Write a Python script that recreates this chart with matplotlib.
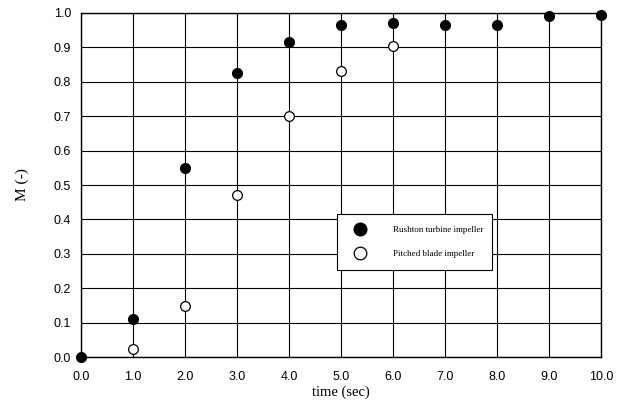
import matplotlib.pyplot as plt
import numpy as np

# data
t_rushton = [0.0, 1.0, 2.0, 3.0, 4.0, 5.0, 6.0, 7.0, 8.0, 9.0, 10.0]
m_rushton = [0.0, 0.11, 0.55, 0.825, 0.915, 0.965, 0.97, 0.965, 0.965, 0.99, 0.995]
t_pitched = [1.0, 2.0, 3.0, 4.0, 5.0, 6.0]
m_pitched = [0.025, 0.15, 0.47, 0.70, 0.83, 0.905]

xticks = np.arange(0, 11, 1)
yticks = np.arange(0, 1.01, 0.1)

fig = plt.figure(figsize=(6.17, 4.04), dpi=100)
ax = fig.add_axes([0.131, 0.116, 0.843, 0.852])

ax.plot(t_rushton, m_rushton, 'o', color='black', markersize=7,
        label='Rushton turbine impeller', clip_on=False, zorder=3)
ax.plot(t_pitched, m_pitched, 'o', markerfacecolor='white', markeredgecolor='black',
        markersize=7, markeredgewidth=0.9, label='Pitched blade impeller',
        clip_on=False, zorder=3)

ax.set_xlim(0, 10)
ax.set_ylim(0, 1.0)
ax.set_xticks(xticks)
ax.set_yticks(yticks)
ax.set_xticklabels([f'{v:.1f}' for v in xticks], fontsize=9, family='Liberation Sans')
ax.set_yticklabels([f'{v:.1f}' for v in yticks], fontsize=9, family='Liberation Sans')
ax.tick_params(axis='x', length=0, pad=10)
ax.tick_params(axis='y', length=0, pad=7)
ax.grid(True, color='black', linewidth=0.8)
for s in ax.spines.values():
    s.set_linewidth(1.0)

ax.set_xlabel('time (sec)', fontsize=10.5, family='Liberation Serif', labelpad=2)
ax.set_ylabel('M (-)', fontsize=11, family='Liberation Serif', labelpad=18)

leg = ax.legend(loc='lower left', bbox_to_anchor=(0.483, 0.24, 0.317, 0.163),
                mode='expand', frameon=True, fancybox=False, edgecolor='black',
                framealpha=1, prop={'family': 'Liberation Serif', 'size': 6.5},
                borderpad=1.35, labelspacing=1.7, handletextpad=2.4,
                markerscale=1.3, handlelength=2.5)
leg.get_frame().set_linewidth(0.8)

fig.savefig('out.png', dpi=100)
